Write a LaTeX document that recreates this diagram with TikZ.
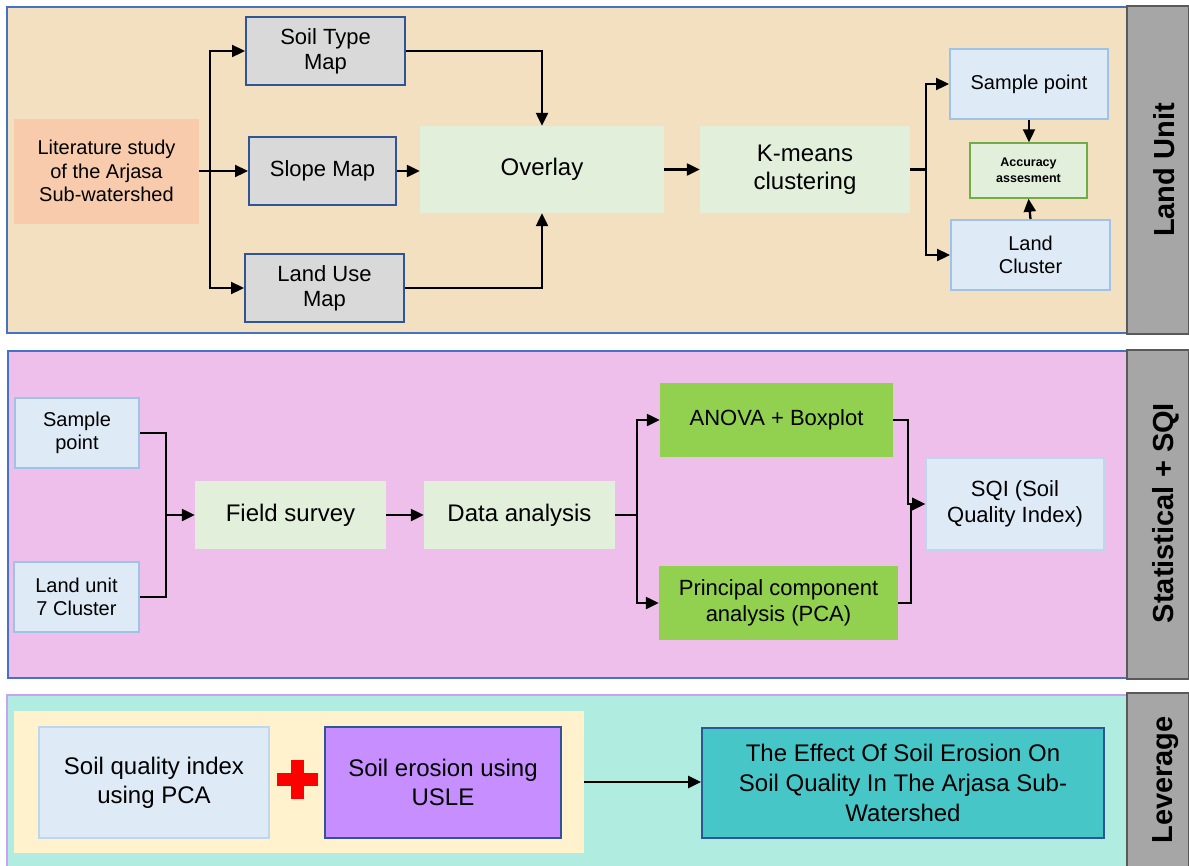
\documentclass[tikz,border=0pt]{standalone}
\usepackage{fontspec}
\setmainfont{Liberation Sans}
\usetikzlibrary{arrows.meta}
\newcommand\myfs[2]{\fontsize{#1}{#2}\selectfont}
\definecolor{panelA}{HTML}{F3E0C1}
\definecolor{panelB}{HTML}{EFBFEB}
\definecolor{panelC}{HTML}{B0EDE0}
\definecolor{sidegray}{HTML}{A6A6A6}
\definecolor{sideedge}{HTML}{595959}
\definecolor{edgeblue}{HTML}{4472C4}
\definecolor{edgepurple}{HTML}{C9A3F2}
\definecolor{litfill}{HTML}{F8CBAD}
\definecolor{mapgray}{HTML}{D9D9D9}
\definecolor{darkblue}{HTML}{2F5597}
\definecolor{palegreen}{HTML}{E2EFDA}
\definecolor{paleblue}{HTML}{DEEBF7}
\definecolor{midblue}{HTML}{9DC3E6}
\definecolor{lightedge}{HTML}{BDD7EE}
\definecolor{accgreen}{HTML}{70AD47}
\definecolor{brightgreen}{HTML}{92D050}
\definecolor{creamfill}{HTML}{FFF2CC}
\definecolor{uslefill}{HTML}{C78EFF}
\definecolor{effectfill}{HTML}{47C6C8}
\definecolor{crossred}{HTML}{FF0000}
\begin{document}
\begin{tikzpicture}[x=1pt,y=-1pt,
  every node/.style={align=center, inner sep=0pt, text=black},
  arr/.style={line width=2.3pt, -{Triangle[length=13pt,width=12pt]}},
  ln/.style={line width=2.3pt},
  panel/.style={line width=1.5pt},
  side/.style={fill=sidegray, draw=sideedge, line width=1.2pt},
  sidelabel/.style={rotate=90, anchor=base, font=\bfseries\myfs{29}{32}},
  mapbox/.style={draw=darkblue, line width=2pt, fill=mapgray, font=\myfs{22}{25}},
  greenbox/.style={fill=palegreen, font=\myfs{24}{28}},
  bluebox/.style={fill=paleblue, draw=midblue, line width=2pt, font=\myfs{20}{23}},
  anovabox/.style={fill=brightgreen, font=\myfs{22}{26}},
]
\useasboundingbox (0,0) rectangle (1189,865);

% ---------- panels ----------
\filldraw[panel, fill=panelA, draw=edgeblue] (7,7) rectangle (1127,333);
\filldraw[side] (1127,6) rectangle (1189,334);
\filldraw[panel, fill=panelB, draw=edgeblue] (8,351) rectangle (1127,678);
\filldraw[side] (1127,350) rectangle (1189,679);
\filldraw[panel, fill=panelC, draw=edgepurple] (7,695) rectangle (1127,870);
\filldraw[side] (1127,693) rectangle (1189,870);

\node[sidelabel] (lblA) at (1174,170) {Land Unit};
\node[sidelabel] (lblB) at (1173,513) {Statistical + SQI};
\node[sidelabel] (lblC) at (1172,780) {Leverage};

% ---------- panel 1 ----------
\node[fill=litfill, minimum width=185pt, minimum height=105pt, font=\myfs{20}{23.5}] (lit) at (106.5,171) {Literature study\\of the Arjasa\\Sub-watershed};
\node[mapbox, minimum width=159pt, minimum height=68pt] (soil) at (325.5,51) {Soil Type\\Map};
\node[mapbox, minimum width=147pt, minimum height=68pt] (slope) at (322.5,171) {Slope Map};
\node[mapbox, minimum width=159pt, minimum height=68pt] (landuse) at (324.5,288) {Land Use\\Map};
\node[greenbox, minimum width=244pt, minimum height=87pt] (overlay) at (542,169.5) {Overlay};
\node[greenbox, minimum width=210pt, minimum height=87pt] (kmeans) at (805,169.5) {K-means\\clustering};
\node[bluebox, minimum width=158pt, minimum height=70pt] (sp1) at (1029,84) {Sample point};
\node[fill=palegreen, draw=accgreen, line width=1.5pt, minimum width=117pt, minimum height=55pt, font=\bfseries\myfs{12.5}{16.5}] (acc) at (1028.5,170.5) {Accuracy\\assesment};
\node[bluebox, minimum width=159pt, minimum height=70pt] (lc) at (1030.5,255) {Land\\Cluster};

\coordinate (busA) at (210,171);
\draw[ln] (lit.east) -- (busA);
\draw[arr] (busA) -- (slope.west);
\draw[arr] (busA) |- (soil.west);
\draw[arr] (busA) |- (landuse.west);
\draw[arr] (soil.east) -| (overlay.north);
\draw[arr] (slope.east) -- (slope.east -| overlay.west);
\draw[arr] (landuse.east) -| (overlay.south);
\draw[arr] (overlay.east) -- (kmeans.west);
\coordinate (busB) at (926,169.5);
\draw[ln] (kmeans.east) -- (busB);
\draw[arr] (busB) |- (sp1.west);
\draw[arr] (busB) |- (lc.west);
\draw[arr] (sp1.south) -- (sp1.south |- acc.north);
\draw[arr] (lc.north) -- (acc.south);

% ---------- panel 2 ----------
\node[bluebox, minimum width=124pt, minimum height=70pt] (sp2) at (77,433) {Sample\\point};
\node[bluebox, minimum width=125pt, minimum height=70pt] (lu7) at (76.5,597) {Land unit\\7 Cluster};
\node[greenbox, minimum width=191pt, minimum height=68pt] (field) at (290.5,515) {Field survey};
\node[greenbox, minimum width=191pt, minimum height=68pt] (data) at (519.5,515) {Data analysis};
\node[anovabox, minimum width=233pt, minimum height=74pt] (anova) at (776.5,420) {ANOVA + Boxplot};
\node[anovabox, minimum width=239pt, minimum height=74pt] (pca) at (778.5,603) {Principal component\\analysis (PCA)};
\node[fill=paleblue, draw=lightedge, line width=1.8pt, minimum width=178pt, minimum height=92pt, font=\myfs{22}{26}] (sqi) at (1015,504) {SQI (Soil\\Quality Index)};

\coordinate (busC) at (166,515);
\draw[ln] (sp2.east) -| (busC);
\draw[ln] (lu7.east) -| (busC);
\draw[arr] (busC) -- (field.west);
\draw[arr] (field.east) -- (data.west);
\coordinate (busD) at (637,515);
\draw[ln] (data.east) -- (busD);
\draw[arr] (busD) |- (anova.west);
\draw[arr] (busD) |- (pca.west);
\draw[arr] (anova.east) -- ++(15,0) |- (sqi.west);
\draw[arr] (pca.east) -- ++(13,0) |- (sqi.west);

% ---------- panel 3 ----------
\node[fill=creamfill, minimum width=570pt, minimum height=142pt] (grp) at (299,782) {};
\node[fill=paleblue, draw=lightedge, line width=1.5pt, minimum width=230pt, minimum height=111pt, font=\myfs{24}{29}] (sqipca) at (154,782.5) {Soil quality index\\using PCA};
\node[fill=uslefill, draw=darkblue, line width=1.5pt, minimum width=236pt, minimum height=111pt, font=\myfs{24}{29}] (usle) at (443,782.5) {Soil erosion using\\USLE};
\fill[crossred] (277,773) rectangle (318,786);
\fill[crossred] (291,760) rectangle (304,799);
\node[fill=effectfill, draw=darkblue, line width=1.8pt, minimum width=402pt, minimum height=110pt, font=\myfs{24}{30}] (effect) at (903,783) {The Effect Of Soil Erosion On\\Soil Quality In The Arjasa Sub-\\Watershed};
\draw[arr] (grp.east) -- (grp.east -| effect.west);
\end{tikzpicture}
\end{document}
